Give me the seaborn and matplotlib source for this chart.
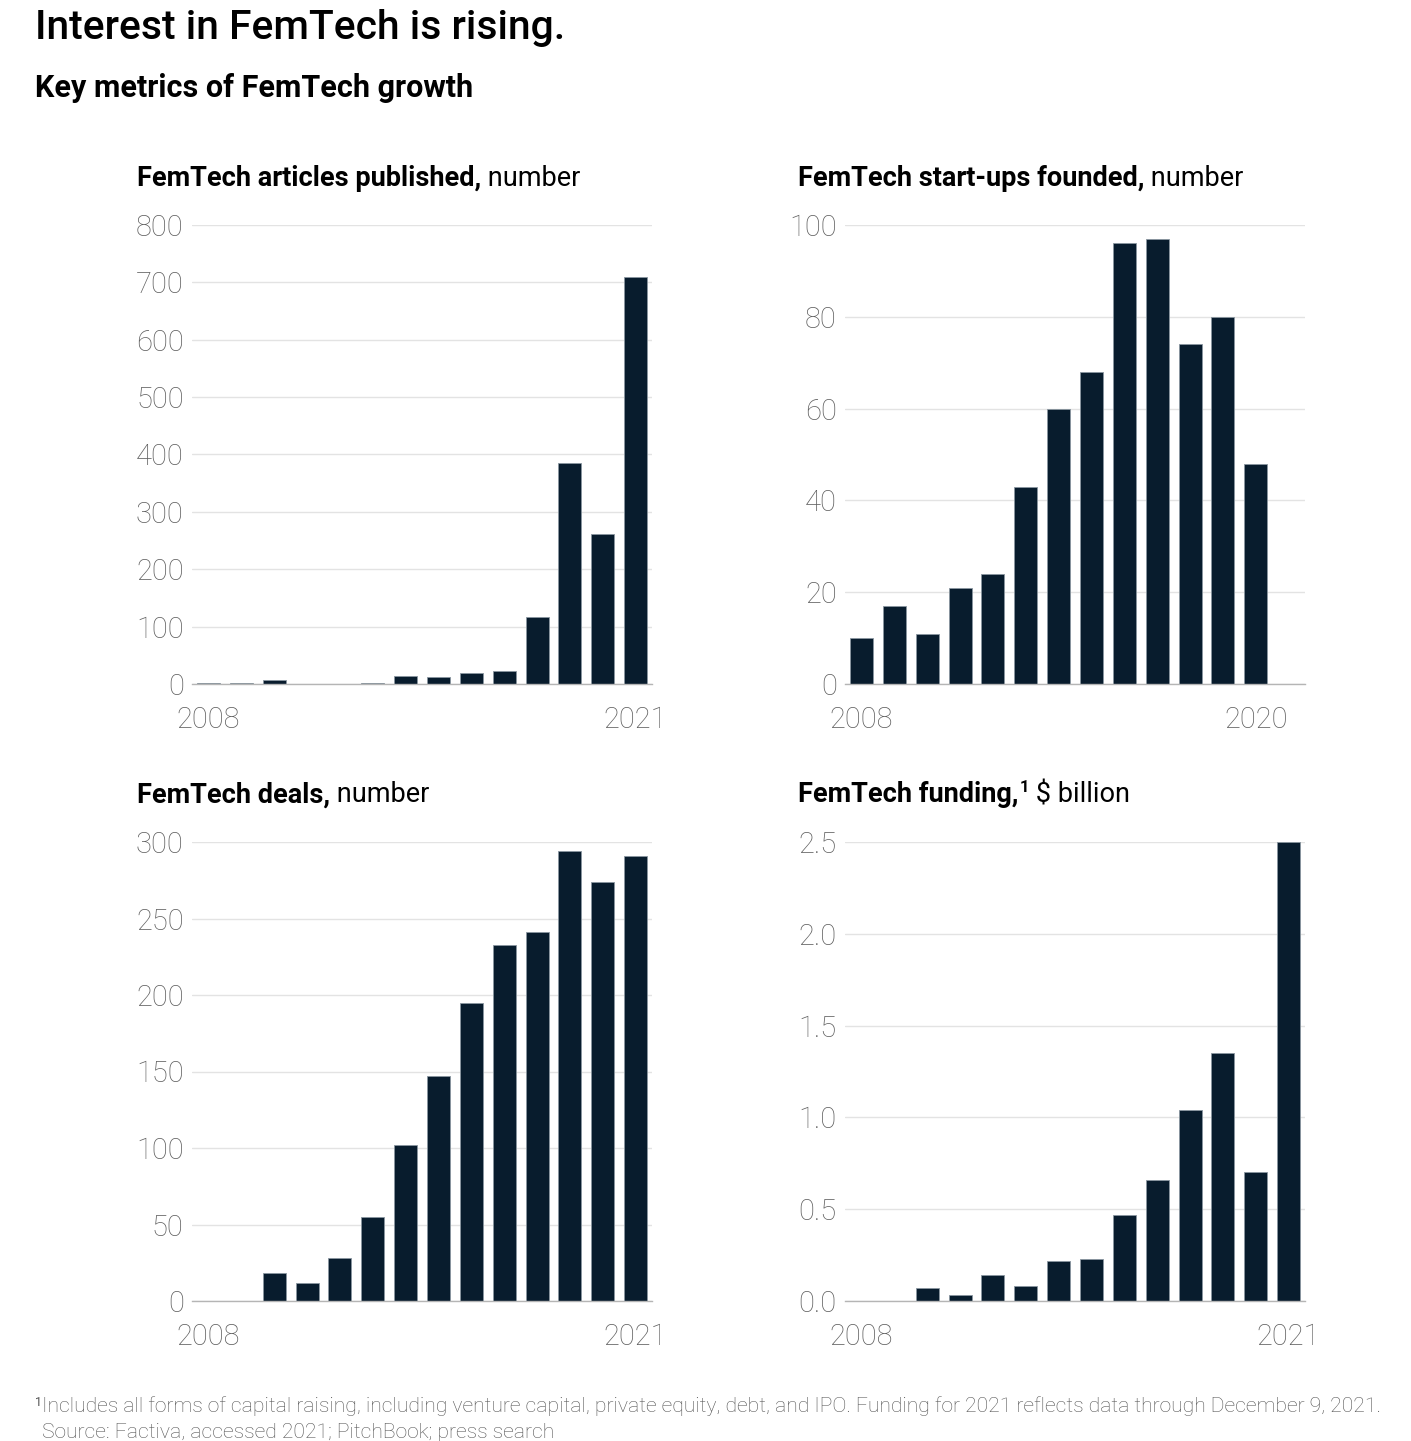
import matplotlib
matplotlib.use("Agg")
import matplotlib.pyplot as plt
import seaborn as sns
import pandas as pd

sns.set_theme(style="white")
plt.rcParams["font.family"] = ["Roboto", "DejaVu Sans"]

years = [str(y) for y in range(2008, 2022)]
startup_years = [str(y) for y in range(2008, 2021)]

articles = [1, 1, 7, 0, 0, 2, 14, 12, 20, 23, 117, 386, 262, 710]
startups = [10, 17, 11, 21, 24, 43, 60, 68, 96, 97, 74, 80, 48]
deals = [0, 0, 18, 12, 28, 55, 102, 147, 195, 233, 241, 294, 274, 291]
funding = [0, 0, 0.07, 0.03, 0.14, 0.08, 0.22, 0.23, 0.47, 0.66, 1.04, 1.35, 0.70, 2.50]

BAR = "#081c2d"
GRID = "#e3e3e3"
TICK = "#5f5f5f"

W, H = 1411, 1441
fig = plt.figure(figsize=(W / 100, H / 100), dpi=100)


def box(x0, y_top, x1, y_bot):
    return [x0 / W, 1 - y_bot / H, (x1 - x0) / W, (y_bot - y_top) / H]


panels = [
    dict(rect=box(192, 225, 652, 684), x=years, y=articles, ylim=800,
         yticks=[0, 100, 200, 300, 400, 500, 600, 700, 800], fmt="{:.0f}",
         bold="FemTech articles published,", rest=" number", sup=None,
         last="2021", tx=137, ty=178),
    dict(rect=box(845, 225, 1305, 684), x=startup_years, y=startups, ylim=100,
         yticks=[0, 20, 40, 60, 80, 100], fmt="{:.0f}",
         bold="FemTech start-ups founded,", rest=" number", sup=None,
         last="2020", tx=798, ty=178),
    dict(rect=box(192, 842, 652, 1301), x=years, y=deals, ylim=300,
         yticks=[0, 50, 100, 150, 200, 250, 300], fmt="{:.0f}",
         bold="FemTech deals,", rest=" number", sup=None, last="2021",
         tx=137, ty=795),
    dict(rect=box(845, 842, 1305, 1301), x=years, y=funding, ylim=2.5,
         yticks=[0, 0.5, 1.0, 1.5, 2.0, 2.5], fmt="{:.1f}",
         bold="FemTech funding,", rest=" $ billion", sup="1", last="2021",
         tx=798, ty=795),
]

renderer = fig.canvas.get_renderer()

for p in panels:
    ax = fig.add_axes(p["rect"])
    df = pd.DataFrame({"year": p["x"], "value": p["y"]})
    sns.barplot(data=df, x="year", y="value", color=BAR, width=0.7,
                saturation=1, edgecolor="#8a96a0", linewidth=0.6, ax=ax)
    ax.set_xlim(-0.5, 13.5)
    ax.set_ylim(0, p["ylim"])
    ax.set_yticks(p["yticks"])
    ax.set_yticklabels([p["fmt"].format(v) for v in p["yticks"]])
    ax.set_xticks([0, len(p["x"]) - 1])
    ax.set_xticklabels(["2008", p["last"]])
    ax.set_xlabel("")
    ax.set_ylabel("")
    ax.grid(axis="y", color=GRID, linewidth=1)
    ax.set_axisbelow(True)
    for s in ["left", "right", "top"]:
        ax.spines[s].set_visible(False)
    ax.spines["bottom"].set_color("#b5b5b5")
    ax.spines["bottom"].set_linewidth(1)
    ax.tick_params(axis="both", length=0, labelsize=21, labelcolor=TICK)
    ax.tick_params(axis="y", pad=6)
    ax.tick_params(axis="x", pad=16)
    for lbl in ax.get_xticklabels() + ax.get_yticklabels():
        lbl.set_fontweight("light")

    # panel title: bold part, optional superscript, regular part
    tx = p["tx"] / W
    ty = 1 - p["ty"] / H
    t1 = fig.text(tx, ty, p["bold"], fontsize=19.5, fontweight="bold",
                  color="#000000", va="center", ha="left")
    x_next = t1.get_window_extent(renderer).x1 / W
    if p["sup"]:
        t_sup = fig.text(x_next + 1 / W, ty + 8 / H, p["sup"], fontsize=12,
                         fontweight="bold", color="#000000", va="center", ha="left")
        x_next = t_sup.get_window_extent(renderer).x1 / W
    fig.text(x_next, ty, p["rest"], fontsize=19.5, color="#000000",
             va="center", ha="left")

fig.text(35 / W, 1 - 28 / H, "Interest in FemTech is rising.", fontsize=29.4,
         fontweight="medium", color="#000000", va="center", ha="left")
fig.text(35 / W, 1 - 88 / H, "Key metrics of FemTech growth", fontsize=22,
         fontweight="bold", color="#000000", va="center", ha="left")

fig.text(35 / W, 1 - 1402 / H, "1", fontsize=9, color="#555555",
         va="center", ha="left")
fig.text(42 / W, 1 - 1406 / H,
         "Includes all forms of capital raising, including venture capital, private equity, "
         "debt, and IPO. Funding for 2021 reflects data through December 9, 2021.",
         fontsize=15.2, fontweight="light", color="#555555", va="center", ha="left")
fig.text(42 / W, 1 - 1432 / H, "Source: Factiva, accessed 2021; PitchBook; press search",
         fontsize=15.2, fontweight="light", color="#555555", va="center", ha="left")

fig.savefig("out.png", dpi=100)
